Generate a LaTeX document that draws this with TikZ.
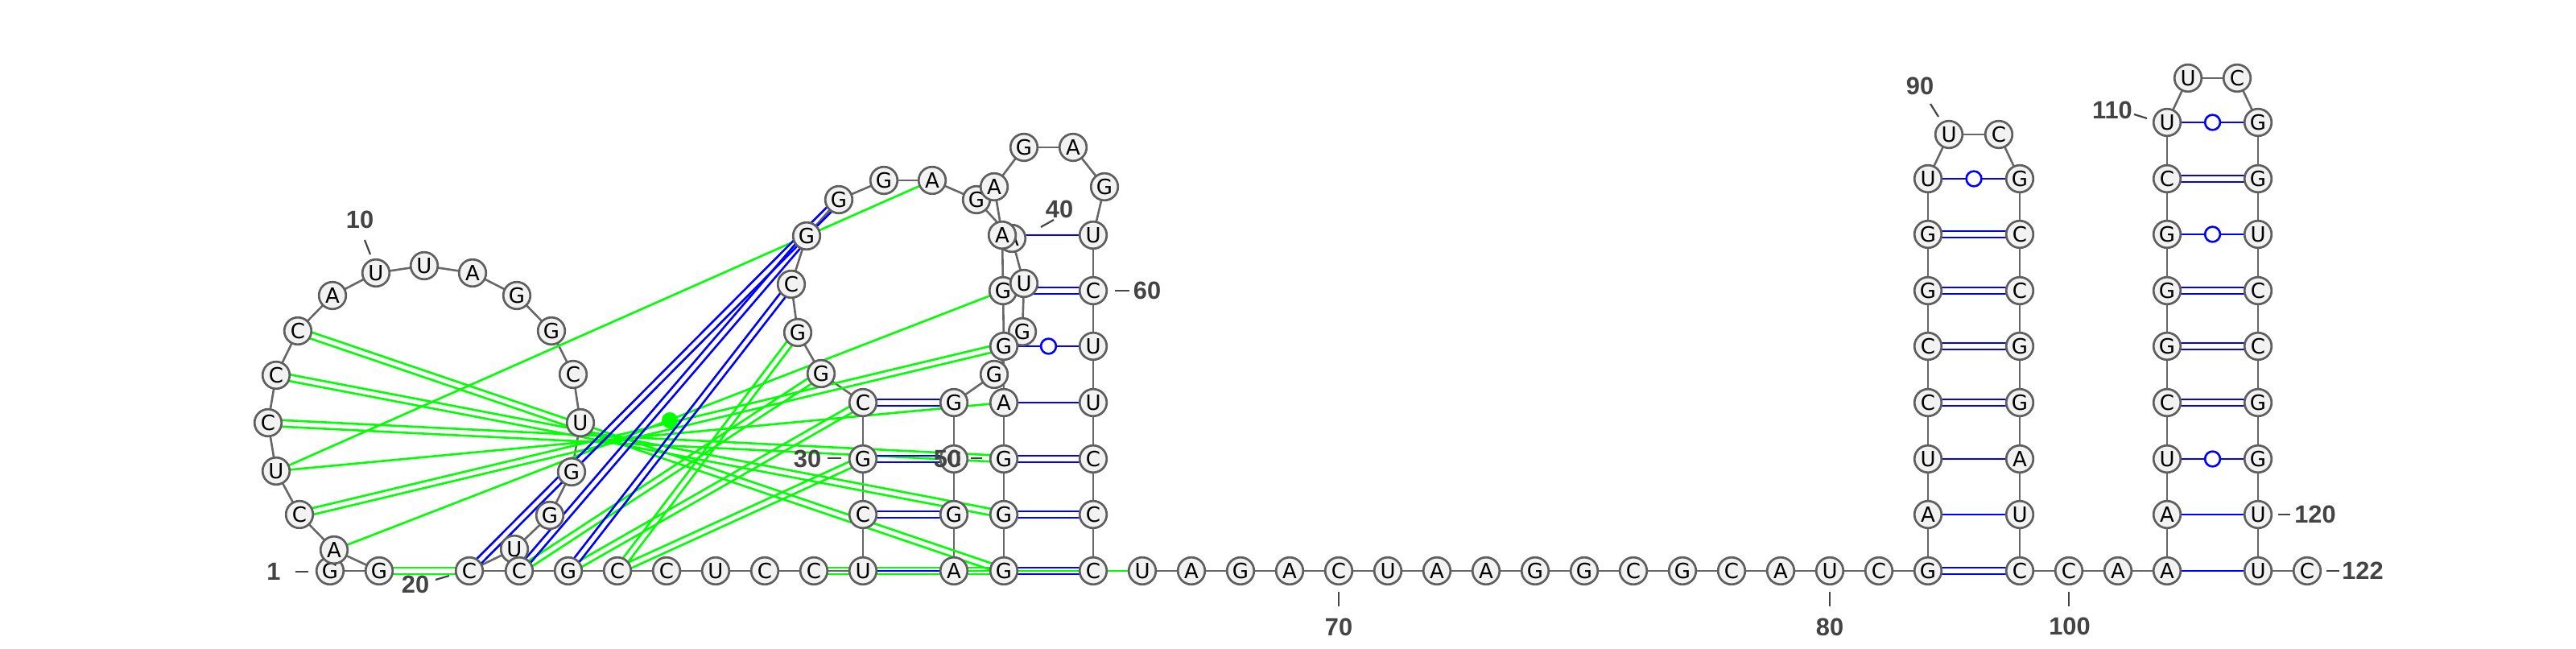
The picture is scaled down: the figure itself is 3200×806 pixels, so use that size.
\documentclass[tikz,border=0pt]{standalone}
\usepackage{fontspec}
\setmainfont{DejaVu Sans}
\newfontfamily\numfont{Liberation Sans}
\usetikzlibrary{calc}
\pgfdeclarelayer{bg}
\pgfsetlayers{bg,main}
\definecolor{nucfill}{HTML}{F2F2F2}
\definecolor{nucline}{HTML}{5F5F5F}
\definecolor{bbline}{HTML}{676767}
\definecolor{labgray}{HTML}{444444}
\definecolor{pkgreen}{HTML}{00FF00}

\tikzset{
  nuc/.style={circle,draw=nucline,fill=nucfill,line width=1.35pt,minimum size=16.8pt,inner sep=0pt,font=\fontsize{13}{15}\selectfont},
  bb/.style={draw=bbline,line width=1.3pt},
  wc/.style={draw=blue,line width=1.3pt},
  gt/.style={draw=pkgreen,line width=1.3pt},
  wob/.style={circle,draw=blue,fill=white,line width=1.3pt,minimum size=9.4pt,inner sep=0pt},
  numlab/.style={text=labgray,font=\numfont\bfseries\fontsize{15.4}{18}\selectfont,inner sep=0pt},
  tick/.style={draw=labgray,line width=1.1pt},
  gdot/.style={circle,fill=pkgreen,minimum size=10pt,inner sep=0pt}
}

% two parallel strokes between nucleotides #2 and #3
\newcommand{\dpair}[3]{%
  \draw[#1] ($(n#2.center)!2pt!90:(n#3.center)$) -- ($(n#3.center)!2pt!-90:(n#2.center)$);
  \draw[#1] ($(n#2.center)!2pt!-90:(n#3.center)$) -- ($(n#3.center)!2pt!90:(n#2.center)$);}

\begin{document}
\begin{tikzpicture}[x=0.5pt,y=-0.5pt]
  \useasboundingbox (0,0) rectangle (3200,806);

  % Nucleotides
  \foreach \i/\b/\x/\y in {
    1/G/410/709, 2/G/471/709, 3/A/415/683, 4/C/372/639, 5/U/343/585,
    6/C/333/525, 7/C/343/466, 8/C/370/411, 9/A/413/367, 10/U/467/339,
    11/U/527/330, 12/A/587/339, 13/G/642/367, 14/G/685/411, 15/C/712/465,
    16/U/721/525, 17/G/710/586, 18/G/683/640, 19/U/639/682, 20/C/583/709,
    21/C/645/709, 22/G/706/709, 23/C/767/709, 24/C/828/709, 25/U/889/709,
    26/C/950/709, 27/C/1011/709, 28/U/1072/709, 29/C/1072/639, 30/G/1072/570,
    31/C/1072/500, 32/G/1020/464, 33/G/991/413, 34/C/983/353, 35/G/1002/293,
    36/G/1042/248, 37/G/1098/224, 38/A/1158/224, 39/G/1213/248, 40/A/1257/296,
    42/G/1270/412, 43/G/1235/465, 44/G/1185/500, 45/C/1185/570,
    46/G/1185/639, 47/A/1185/709, 48/G/1247/709, 49/G/1247/639, 50/G/1247/570,
    51/A/1247/500, 52/G/1247/430, 53/G/1246/361, 41/U/1272/352, 54/A/1245/292,
    55/A/1235/232, 56/G/1272/183, 57/A/1333/183, 58/G/1372/232, 59/U/1358/292,
    60/C/1358/361, 61/U/1358/430, 62/U/1358/500, 63/C/1358/570, 64/C/1358/639,
    65/C/1358/709, 66/U/1419/709, 67/A/1480/709, 68/G/1541/709, 69/A/1602/709,
    70/C/1663/709, 71/U/1724/709, 72/A/1785/709, 73/A/1846/709, 74/G/1907/709,
    75/G/1968/709, 76/C/2029/709, 77/G/2090/709, 78/C/2151/709, 79/A/2212/709,
    80/U/2273/709, 81/C/2334/709, 82/G/2395/709, 83/A/2395/639, 84/U/2395/570,
    85/C/2395/500, 86/C/2395/430, 87/G/2395/361, 88/G/2395/291, 89/U/2395/222,
    90/U/2421/167, 91/C/2483/167, 92/G/2509/222, 93/C/2509/291, 94/C/2509/361,
    95/G/2509/430, 96/G/2509/500, 97/A/2509/570, 98/U/2509/639, 99/C/2509/709,
    100/C/2570/709, 101/A/2631/709, 102/A/2692/709, 103/A/2692/639, 104/U/2692/570,
    105/C/2692/500, 106/G/2692/430, 107/G/2692/361, 108/G/2692/291, 109/C/2692/222,
    110/U/2692/152, 111/U/2718/97, 112/C/2779/97, 113/G/2805/152, 114/G/2805/222,
    115/U/2805/291, 116/C/2805/361, 117/C/2805/430, 118/G/2805/500, 119/G/2805/570,
    120/U/2805/639, 121/U/2805/709, 122/C/2866/709} {
    \node[nuc] (n\i) at (\x,\y) {\b};
  }

  \node[gdot] (gd) at (832,522) {};

  % Position numbers
  \node[numlab] (l1) at (340,710) {1};
  \node[numlab] (l10) at (447,273) {10};
  \node[numlab] (l20) at (516,726) {20};
  \node[numlab] (l30) at (1003,570) {30};
  \node[numlab] (l40) at (1316,260) {40};
  \node[numlab] (l50) at (1177,570) {50};
  \node[numlab] (l60) at (1425,361) {60};
  \node[numlab] (l70) at (1663,779) {70};
  \node[numlab] (l80) at (2273,779) {80};
  \node[numlab] (l90) at (2385,107) {90};
  \node[numlab] (l100) at (2571,778) {100};
  \node[numlab] (l110) at (2624,137) {110};
  \node[numlab] (l120) at (2876,639) {120};
  \node[numlab] (l122) at (2935,709) {122};

  \draw[tick] (l1.center) ++(27,0) -- ++(16,0);
  \draw[tick] (l10.center) ++(6,25) -- ++(7,18);
  \draw[tick] (l20.center) ++(25,-6) -- ++(17,-5);
  \draw[tick] (l30.center) ++(25,-1) -- ++(17,0);
  \draw[tick] (l40.center) ++(-23,22) -- ++(16,-9);
  \draw[tick] (l50.center) ++(29,-1) -- ++(14,0);
  \draw[tick] (l60.center) ++(-40,0) -- ++(18,0);
  \draw[tick] (l70.center) ++(0,-44) -- ++(0,18);
  \draw[tick] (l80.center) ++(0,-44) -- ++(0,18);
  \draw[tick] (l90.center) ++(13,22) -- ++(10,16);
  \draw[tick] (l100.center) ++(-1,-43) -- ++(0,18);
  \draw[tick] (l110.center) ++(27,5) -- ++(16,5);
  \draw[tick] (l120.center) ++(-46,0) -- ++(15,0);
  \draw[tick] (l122.center) ++(-45,0) -- ++(16,0);

  \begin{pgfonlayer}{bg}
    % Backbone
    \foreach \i in {1,...,121} {
      \pgfmathtruncatemacro\j{\i+1}
      \draw[bb] (n\i.center) -- (n\j.center);
    }
    % Tertiary contacts
    \foreach \a/\b in {2/20,4/52,6/50,7/49,8/48,27/48,21/32,22/31,23/30,23/33} {\dpair{gt}{\a}{\b}}
    \foreach \a/\b in {3/53,5/38,5/51,47/66} {\draw[gt] (n\a.center) -- (n\b.center);}
    % Canonical pairs
    \foreach \a/\b in {20/36,21/35,22/34,29/46,30/45,31/44,48/65,49/64,50/63,53/60,
      82/99,85/96,86/95,87/94,88/93,105/118,106/117,107/116,109/114} {\dpair{wc}{\a}{\b}}
    \foreach \a/\b in {28/47,51/62,54/59,83/98,84/97,102/121,103/120} {\draw[wc] (n\a.center) -- (n\b.center);}
    % G-U pairs
    \foreach \a/\b in {52/61,89/92,104/119,108/115,110/113} {
      \draw[wc] (n\a.center) -- (n\b.center) node[wob,midway] (w\a) {};
    }
  \end{pgfonlayer}
\end{tikzpicture}
\end{document}
